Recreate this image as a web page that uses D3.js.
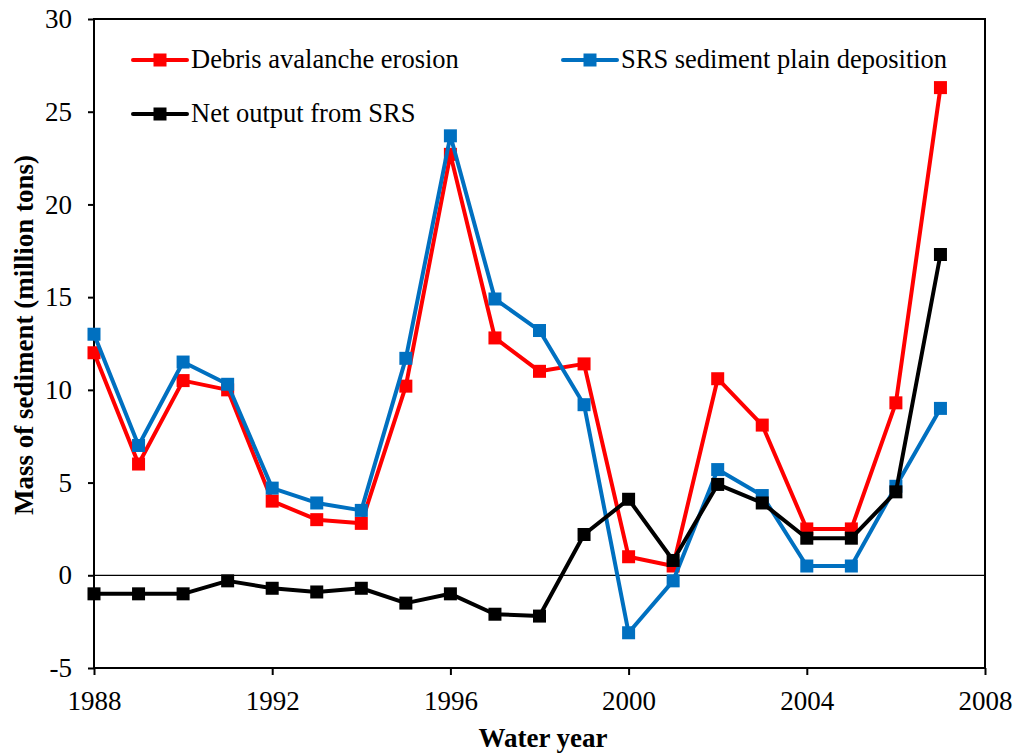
<!DOCTYPE html>
<html>
<head>
<meta charset="utf-8">
<script src="https://cdn.jsdelivr.net/npm/d3@7"></script>
<style>
  body { margin: 0; background: #fff; }
</style>
</head>
<body>
<svg width="1034" height="754"></svg>
<script>
"use strict"

// water years
let years = d3.range(1988, 2008)

// million tons
let erosion = [12, 6, 10.5, 10, 4, 3, 2.8, 10.2, 22.7, 12.8, 11, 11.4, 1.0, 0.5, 10.6, 8.1, 2.5, 2.5, 9.3, 26.3]
let deposition = [13, 7, 11.5, 10.3, 4.7, 3.9, 3.5, 11.7, 23.7, 14.9, 13.2, 9.2, -3.1, -0.3, 5.7, 4.3, 0.5, 0.5, 4.8, 9.0]
let netOutput = [-1, -1, -1, -0.3, -0.7, -0.9, -0.7, -1.5, -1, -2.1, -2.2, 2.2, 4.1, 0.8, 4.9, 3.9, 2.0, 2.0, 4.5, 17.3]

let xTicks = [1988, 1992, 1996, 2000, 2004, 2008]
let yTicks = [-5, 0, 5, 10, 15, 20, 25, 30]

let series = [
  {name: "Debris avalanche erosion", values: erosion, color: "#ff0000"},
  {name: "SRS sediment plain deposition", values: deposition, color: "#0070c0"},
  {name: "Net output from SRS", values: netOutput, color: "#000000"}
]

let font = "Times New Roman, Liberation Serif, Tinos, DejaVu Serif, serif"
let svg = d3.select("svg").style("font-family", font)
let plotL = 94, plotR = 985, plotT = 19, plotB = 668

let x = d3.scaleLinear().domain([1988, 2008]).range([plotL, plotR])
let y = d3.scaleLinear().domain([-5, 30]).range([plotB, plotT])

/* frame */
svg.append("rect")
  .attr("x", plotL).attr("y", plotT)
  .attr("width", plotR - plotL).attr("height", plotB - plotT)
  .attr("fill", "none").attr("stroke", "#000").attr("stroke-width", 2)

/* zero line */
svg.append("line")
  .attr("x1", plotL).attr("x2", plotR)
  .attr("y1", y(0)).attr("y2", y(0))
  .attr("stroke", "#000").attr("stroke-width", 1.3)

/* axes */
let yAxis = svg.append("g")
  .attr("transform", "translate(" + plotL + ",0)")
  .call(d3.axisLeft(y).tickValues(yTicks).tickFormat(d => String(d)).tickSize(6).tickPadding(16))
let xAxis = svg.append("g")
  .attr("transform", "translate(0," + plotB + ")")
  .call(d3.axisBottom(x).tickValues(xTicks).tickFormat(d => String(d)).tickSize(7).tickPadding(16))

for (let ax of [xAxis, yAxis]) {
  ax.attr("font-family", null).attr("font-size", null)
  ax.select(".domain").remove()
  ax.selectAll("line").attr("stroke", "#000").attr("stroke-width", 2)
  ax.selectAll("text").attr("fill", "#000").style("font-family", font).style("font-size", "27px")
}

/* axis titles */
svg.append("text")
  .attr("x", 543).attr("y", 747)
  .attr("text-anchor", "middle")
  .style("font-family", font).style("font-size", "27px").style("font-weight", "bold")
  .text("Water year")

svg.append("text")
  .attr("transform", "translate(33,335) rotate(-90)")
  .attr("text-anchor", "middle")
  .style("font-family", font).style("font-size", "27px").style("font-weight", "bold")
  .text("Mass of sediment (million tons)")

/* lines + markers */
let line = d3.line().x((d, i) => x(years[i])).y(d => y(d))
let ms = 13

series.forEach(s => {
  let g = svg.append("g")
  g.append("path")
    .attr("d", line(s.values))
    .attr("fill", "none")
    .attr("stroke", s.color)
    .attr("stroke-width", 4)
    .attr("stroke-linejoin", "round")
  g.selectAll("rect")
    .data(s.values)
    .enter()
    .append("rect")
    .attr("x", (d, i) => x(years[i]) - ms / 2)
    .attr("y", d => y(d) - ms / 2)
    .attr("width", ms).attr("height", ms)
    .attr("fill", s.color)
})

/* legend */
let legendPos = [[133, 60], [563, 60], [133, 114]]
series.forEach((s, i) => {
  let [lx, ly] = legendPos[i]
  let g = svg.append("g").attr("transform", "translate(" + lx + "," + ly + ")")
  g.append("line")
    .attr("x1", 0).attr("x2", 54).attr("y1", 0).attr("y2", 0)
    .attr("stroke", s.color).attr("stroke-width", 4).attr("stroke-linecap", "round")
  g.append("rect")
    .attr("x", 27 - ms / 2).attr("y", -ms / 2)
    .attr("width", ms).attr("height", ms)
    .attr("fill", s.color)
  g.append("text")
    .attr("x", 58).attr("y", 8)
    .style("font-family", font).style("font-size", "26.5px")
    .attr("fill", "#000")
    .text(s.name)
})
</script>
</body>
</html>
